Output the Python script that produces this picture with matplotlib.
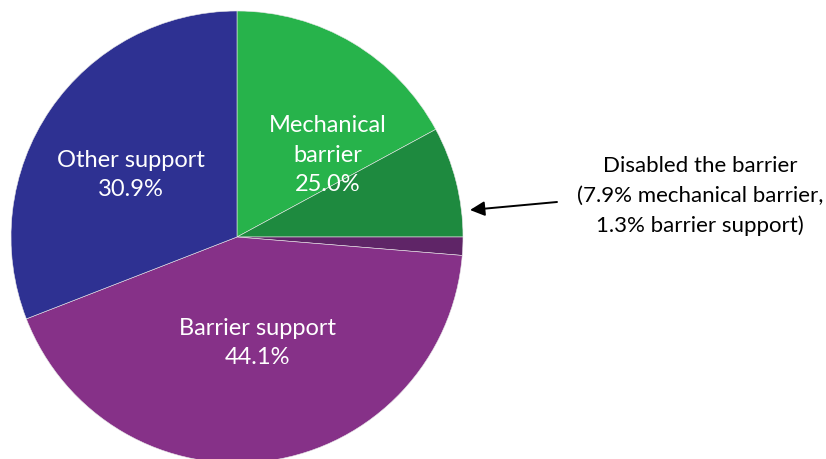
import matplotlib
matplotlib.use("Agg")
import matplotlib.pyplot as plt

# slice values (percent), clockwise from 12 o'clock
slices = ["Mechanical barrier", "Disabled (mechanical)", "Disabled (support)",
          "Barrier support", "Other support"]
values = [17.1, 7.9, 1.3, 42.8, 30.9]
colors = ["#27b34b", "#1e8a3f", "#5f2567", "#863188", "#2e3192"]

# group labels shown inside the pie
group_labels = ["Mechanical\nbarrier\n25.0%", "Barrier support\n44.1%", "Other support\n30.9%"]
group_pos = [(328, 305), (257, 117), (131, 285)]

note = "Disabled the barrier\n(7.9% mechanical barrier,\n1.3% barrier support)"

plt.rcParams['font.family'] = ['Lato', 'DejaVu Sans']

fig = plt.figure(figsize=(8.26, 4.60), dpi=100)
ax = fig.add_axes([0, 0, 1, 1])
ax.pie(values, colors=colors, startangle=90, counterclock=False,
       center=(237, 222), radius=226, frame=True,
       wedgeprops=dict(edgecolor="#e8e8e8", linewidth=0.4))
ax.set_xlim(0, 826)
ax.set_ylim(0, 460)
ax.set_aspect('equal')
ax.axis('off')

for txt, (x, y) in zip(group_labels, group_pos):
    ax.text(x, y, txt, color="white", fontsize=17, ha="center", va="center",
            linespacing=1.5)

ax.text(700, 264, note, fontsize=16, ha="center", va="center", linespacing=1.6)
ax.annotate("", xy=(470, 249), xytext=(557, 257),
            arrowprops=dict(arrowstyle="-|>", color="black", lw=1.4,
                            mutation_scale=22, shrinkA=0, shrinkB=0))

fig.savefig("out.png", dpi=100)
